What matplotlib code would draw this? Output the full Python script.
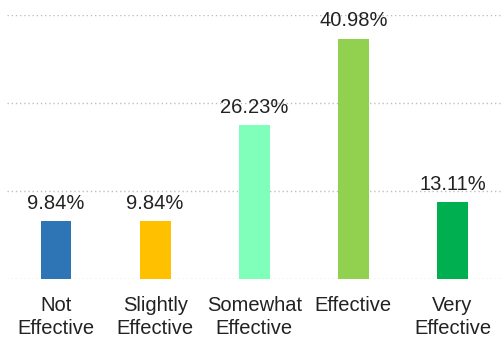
import matplotlib.pyplot as plt

categories = ['Not\nEffective', 'Slightly\nEffective', 'Somewhat\nEffective', 'Effective', 'Very\nEffective']
percents = [9.84, 9.84, 26.23, 40.98, 13.11]
colors = ['#2E75B6', '#FFC000', '#80FFBA', '#92D050', '#00B050']

plt.rcParams['font.family'] = ['Liberation Sans', 'DejaVu Sans']

fig = plt.figure(figsize=(5.01, 3.42), dpi=100)
ax = fig.add_axes([0.013, 0.184, 0.989, 0.772])

x = range(len(categories))
bars = ax.bar(x, percents, width=0.31, color=colors, zorder=3)

for b, v in zip(bars, percents):
    ax.annotate('%.2f%%' % v, (b.get_x() + b.get_width() / 2, v),
                xytext=(0, 6), textcoords='offset points',
                ha='center', va='bottom', fontsize=14.5, color='#222222')

ax.set_ylim(0, 45)
ax.set_xlim(-0.5, len(categories) - 0.5)
ax.set_yticks([0, 15, 30, 45])
ax.yaxis.grid(True, linestyle=(0, (1, 2)), color='#BFBFBF', linewidth=1)
ax.tick_params(left=False, labelleft=False, bottom=False)
ax.set_xticks(list(x))
ax.set_xticklabels(categories, fontsize=14.5, color='#222222', linespacing=1.25)
ax.tick_params(axis='x', pad=9)
for s in ax.spines.values():
    s.set_visible(False)

fig.savefig('out.png', dpi=100)
